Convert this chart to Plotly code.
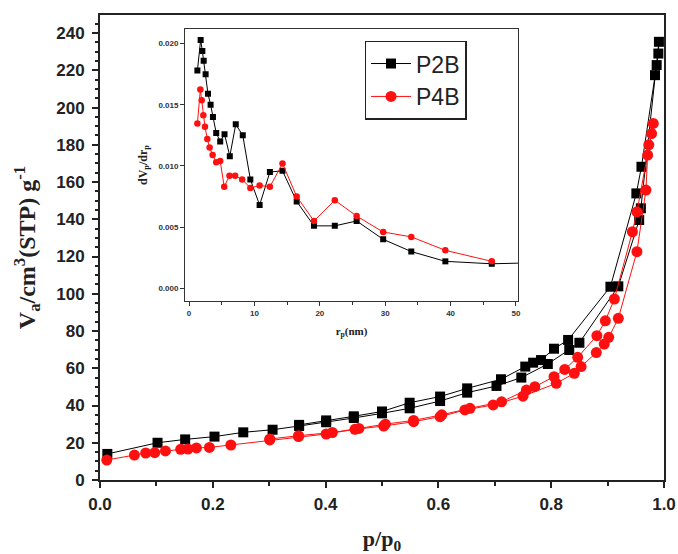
import plotly.graph_objects as go

# N2 isotherms (p/p0, adsorbed volume) - adsorption then desorption branch
p2b_ads_x = [0.013, 0.102, 0.151, 0.203, 0.254, 0.306, 0.353, 0.401, 0.450, 0.500, 0.549, 0.603,
             0.651, 0.703, 0.747, 0.794, 0.832, 0.850, 0.919, 0.956, 0.959, 0.984, 0.987, 0.991]
p2b_ads_y = [14.0, 20.0, 21.8, 23.3, 25.6, 27.0, 29.0, 31.0, 33.3, 35.8, 38.5, 42.4,
             46.9, 50.5, 55.0, 62.3, 69.8, 73.7, 104.0, 139.6, 145.9, 217.4, 222.8, 235.3]
p2b_des_x = [0.990, 0.960, 0.951, 0.905, 0.830, 0.805, 0.782, 0.768, 0.754, 0.711, 0.651, 0.603,
             0.549, 0.500, 0.450, 0.401, 0.353]
p2b_des_y = [229.0, 168.2, 153.9, 103.8, 75.2, 70.5, 64.4, 63.0, 60.9, 54.1, 49.2, 44.8,
             41.5, 36.8, 34.2, 32.0, 29.6]

p4b_ads_x = [0.012, 0.061, 0.081, 0.097, 0.116, 0.143, 0.156, 0.171, 0.194, 0.232, 0.301, 0.352,
             0.401, 0.452, 0.503, 0.556, 0.603, 0.647, 0.697, 0.750, 0.809, 0.841, 0.853, 0.880,
             0.894, 0.902, 0.919, 0.952, 0.968, 0.971, 0.978, 0.981]
p4b_ads_y = [10.7, 13.4, 14.5, 14.7, 15.6, 16.5, 16.6, 17.2, 17.5, 18.8, 21.5, 23.3,
             24.7, 27.2, 29.0, 31.3, 34.0, 37.6, 40.3, 45.0, 51.9, 57.3, 60.9, 68.4,
             73.0, 76.6, 86.8, 122.6, 155.7, 174.5, 186.0, 191.5]
p4b_des_x = [0.973, 0.952, 0.944, 0.912, 0.896, 0.881, 0.847, 0.824, 0.805, 0.771, 0.756, 0.712,
             0.656, 0.606, 0.556, 0.506, 0.459, 0.412, 0.352, 0.301]
p4b_des_y = [180.0, 144.0, 133.3, 97.2, 85.5, 77.5, 65.9, 59.4, 55.5, 50.1, 48.3, 42.0,
             38.5, 35.0, 32.0, 30.0, 27.7, 25.5, 23.8, 22.0]

# Pore size distribution (r_p in nm, dV_p/dr_p)
p2b_r = [1.27, 1.77, 2.03, 2.23, 2.53, 2.89, 3.29, 3.65, 4.15, 4.76, 5.42, 6.23, 7.14, 8.21,
         9.37, 10.79, 12.36, 14.29, 16.46, 19.10, 22.29, 25.63, 29.69, 33.99, 39.2, 46.3, 54.0]
p2b_dv = [0.0178, 0.0203, 0.0194, 0.0186, 0.0175, 0.0159, 0.0150, 0.0140, 0.0127, 0.0120,
          0.0126, 0.0108, 0.0134, 0.0125, 0.0089, 0.0068, 0.0095, 0.0096, 0.0071, 0.0051,
          0.0051, 0.0055, 0.0040, 0.0030, 0.0022, 0.0020, 0.0021]
p4b_r = [1.27, 1.72, 1.93, 2.18, 2.43, 2.79, 3.14, 3.60, 4.15, 4.76, 5.37, 6.18, 7.04, 8.11,
         9.37, 10.79, 12.36, 14.29, 16.46, 19.10, 22.29, 25.63, 29.69, 33.99, 39.2, 46.3]
p4b_dv = [0.01347, 0.01624, 0.01537, 0.01415, 0.0132, 0.0122, 0.0115, 0.0109, 0.0103, 0.0104,
          0.0083, 0.0092, 0.0092, 0.0089, 0.0082, 0.0084, 0.0083, 0.0102, 0.0075, 0.0055,
          0.0072, 0.0059, 0.0046, 0.0042, 0.0031, 0.0022]

series_names = ["P2B", "P4B"]
BLACK = "#000000"
RED = "#ff1010"

fig = go.Figure()

# Main isotherm traces
fig.add_trace(go.Scatter(
    x=p2b_ads_x + p2b_des_x, y=p2b_ads_y + p2b_des_y, name=series_names[0],
    mode="lines+markers", line=dict(color=BLACK, width=1),
    marker=dict(symbol="square", size=10, color=BLACK), xaxis="x", yaxis="y"))
fig.add_trace(go.Scatter(
    x=p4b_ads_x + p4b_des_x, y=p4b_ads_y + p4b_des_y, name=series_names[1],
    mode="lines+markers", line=dict(color=RED, width=1),
    marker=dict(symbol="circle", size=11, color=RED), xaxis="x", yaxis="y"))

# Inset: pore size distribution
fig.add_trace(go.Scatter(
    x=p2b_r, y=p2b_dv, showlegend=False, mode="lines+markers",
    line=dict(color=BLACK, width=1),
    marker=dict(symbol="square", size=6, color=BLACK), xaxis="x2", yaxis="y2"))
fig.add_trace(go.Scatter(
    x=p4b_r, y=p4b_dv, showlegend=False, mode="lines+markers",
    line=dict(color=RED, width=1),
    marker=dict(symbol="circle", size=6.5, color=RED), xaxis="x2", yaxis="y2"))

tick_main = dict(family="Liberation Sans, Arial, sans-serif", size=17, color="#222", weight="bold")
tick_inset = dict(family="Liberation Sans, Arial, sans-serif", size=8, color="#333", weight="bold")
serif_bold = "Liberation Serif, Times New Roman, serif"

fig.update_layout(
    width=678, height=554,
    margin=dict(l=100, r=11, t=15, b=74),
    paper_bgcolor="white", plot_bgcolor="white",
    showlegend=True,
    legend=dict(
        x=0.469, y=0.945, xanchor="left", yanchor="top",
        bgcolor="white", bordercolor="#222", borderwidth=1.5,
        font=dict(family="Liberation Sans, Arial, sans-serif", size=23, color="#222"),
        tracegroupgap=0, itemwidth=40,
    ),
    xaxis=dict(
        domain=[0, 1], range=[0, 1], dtick=0.2, tickformat=".1f", automargin=False,
        showgrid=False, zeroline=False,
        showline=True, linecolor="#222", linewidth=2, mirror=True,
        ticks="outside", ticklen=6, tickwidth=2, tickcolor="#222",
        minor=dict(dtick=0.1, ticks="outside", ticklen=4, tickwidth=1.5, tickcolor="#222"),
        tickfont=tick_main, ticklabelstandoff=2,
        title=dict(text="p/p<sub>0</sub>", standoff=24,
                   font=dict(family=serif_bold, size=22, color="#222", weight="bold")),
    ),
    yaxis=dict(
        domain=[0, 1], range=[0, 249.7], dtick=20, automargin=False,
        showgrid=False, zeroline=False,
        showline=True, linecolor="#222", linewidth=2, mirror=True,
        ticks="outside", ticklen=6, tickwidth=2, tickcolor="#222",
        minor=dict(dtick=5, ticks="outside", ticklen=3, tickwidth=1.5, tickcolor="#222"),
        tickfont=tick_main, ticklabelstandoff=4,
        title=dict(text="V<sub>a</sub>/cm<sup>3</sup>(STP) g<sup>-1</sup>", standoff=14,
                   font=dict(family=serif_bold, size=24, color="#222", weight="bold")),
    ),
    xaxis2=dict(
        domain=[0.151, 0.741], anchor="y2", range=[-0.6, 50.3], dtick=10,
        showgrid=False, zeroline=False,
        showline=True, linecolor="#333", linewidth=1.2, mirror=True,
        ticks="outside", ticklen=4, tickwidth=1.2, tickcolor="#333",
        minor=dict(dtick=5, ticks="outside", ticklen=2.5, tickwidth=1, tickcolor="#333"),
        tickfont=tick_inset,
        title=dict(text="r<sub>p</sub>(nm)", standoff=10,
                   font=dict(family=serif_bold, size=11, color="#222", weight="bold")),
    ),
    yaxis2=dict(
        domain=[0.385, 0.970], anchor="x2", range=[-0.00104, 0.0212], dtick=0.005,
        tickformat=".3f",
        showgrid=False, zeroline=False,
        showline=True, linecolor="#333", linewidth=1.2, mirror=True,
        ticks="outside", ticklen=4, tickwidth=1.2, tickcolor="#333",
        tickfont=tick_inset,
        title=dict(text="dV<sub>p</sub>/dr<sub>p</sub>", standoff=8,
                   font=dict(family=serif_bold, size=12, color="#222", weight="bold")),
    ),
)

fig.write_html("out.html")
